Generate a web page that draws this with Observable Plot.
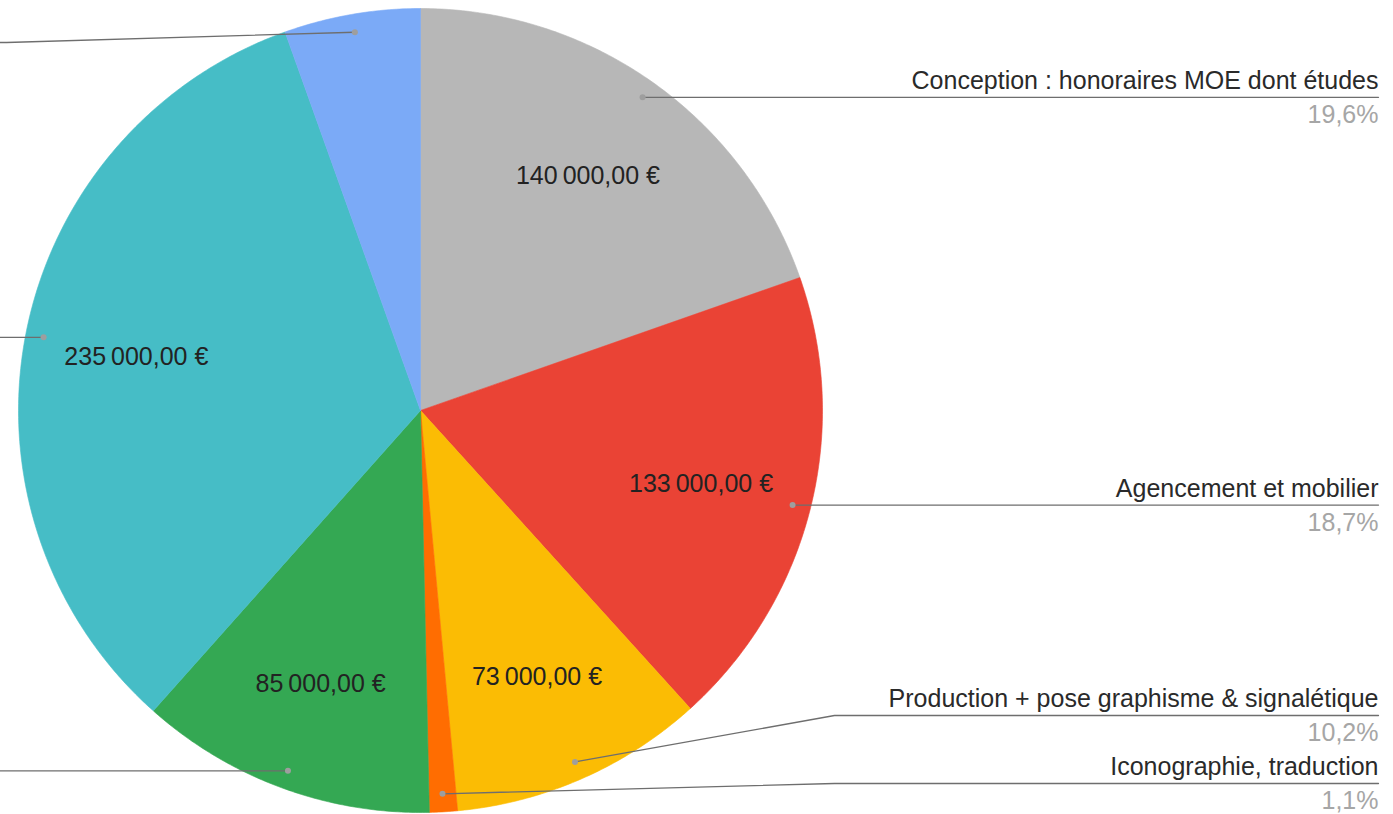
<!DOCTYPE html>
<html>
<head>
<meta charset="utf-8">
<script src="https://cdn.jsdelivr.net/npm/d3@7"></script>
<script src="https://cdn.jsdelivr.net/npm/@observablehq/plot@0.6"></script>
<style>
  html, body { margin: 0; padding: 0; background: #fff; }
  #chart svg { display: block; }
</style>
</head>
<body>
<div id="chart"></div>
<script>
// ---- data (clockwise from 12 o'clock) ----
const categories = [
  "Conception : honoraires MOE dont études",
  "Agencement et mobilier",
  "Production + pose graphisme & signalétique",
  "Iconographie, traduction",
  null, // label outside the visible area
  null, // label outside the visible area
  null  // label outside the visible area
];
const values = [140000, 133000, 73000, 8000, 85000, 235000, 39000];
const colors = ["#b7b7b7", "#ea4335", "#fbbc04", "#ff6d01", "#34a853", "#46bdc6", "#7baaf7"];

// ---- layout ----
const W = 1393, H = 814;
const cx = 420, cy = 410, R = 402;
const FS = 25;
const FONT = "'Liberation Sans', Arial, Helvetica, sans-serif";

const total = d3.sum(values);
const arcs = d3.pie().sort(null).value(d => d)(values);
const pt = (a, rho) => ({x: cx + rho * Math.sin(a), y: cy - rho * Math.cos(a)});

const fr = d3.formatLocale({decimal: ",", thousands: "\u2009", grouping: [3], currency: ["", ""]});
const fmtNum = fr.format(",.2f");
const fmtEuro = v => fmtNum(v) + " €";
const fmtPct = v => (Math.round(v * 1000) / 10).toFixed(1).replace(".", ",") + "%";

// slice polygons
const slices = arcs.map((p, i) => {
  const pts = [pt(0, 0)];
  const n = Math.max(2, Math.ceil((p.endAngle - p.startAngle) / (Math.PI / 360)));
  for (let k = 0; k <= n; k++) pts.push(pt(p.startAngle + (p.endAngle - p.startAngle) * k / n, R));
  pts.push(pt(0, 0));
  return {i, pts};
});

// leader anchors
const items = arcs.map((p, i) => {
  const mid = (p.startAngle + p.endAngle) / 2;
  const dot = pt(mid, R * 0.955);
  return {i, mid, dot, side: Math.sin(mid) >= 0 ? "right" : "left", labelY: dot.y};
});
function layout(list, minY, maxY, gap) {
  list.sort((a, b) => a.dot.y - b.dot.y);
  list.forEach(d => d.labelY = Math.min(maxY, Math.max(minY, d.dot.y)));
  for (let k = list.length - 2; k >= 0; k--)
    if (list[k].labelY > list[k + 1].labelY - gap) list[k].labelY = list[k + 1].labelY - gap;
  for (let k = 1; k < list.length; k++)
    if (list[k].labelY < list[k - 1].labelY + gap) list[k].labelY = list[k - 1].labelY + gap;
}
const right = items.filter(d => d.side === "right");
const left = items.filter(d => d.side === "left");
layout(right, 42, H - 31, 68);
layout(left, 42, H - 31, 68);

const xEnd = W - 15;
const leaders = [];
items.forEach(d => {
  const elbowX = d.side === "right" ? cx + R + 12 : cx - R - 12;
  const endX = d.side === "right" ? xEnd : -400;
  [d.dot, {x: elbowX, y: d.labelY}, {x: endX, y: d.labelY}].forEach(p => leaders.push({i: d.i, x: p.x, y: p.y}));
});

const nameLabels = right.filter(d => categories[d.i]).map(d => ({x: xEnd, y: d.labelY - 8.5 - 0.32 * FS, text: categories[d.i]}));
const pctLabels = right.filter(d => categories[d.i]).map(d => ({x: xEnd, y: d.labelY + 25.5 - 0.32 * FS, text: fmtPct(values[d.i] / total)}));
const valueLabels = items.filter(d => values[d.i] / total > 0.07).map(d => {
  const p = pt(d.mid, R * 0.72);
  return {x: p.x, y: p.y + 2, text: fmtEuro(values[d.i])};
});

const chart = Plot.plot({
  width: W,
  height: H,
  margin: 0,
  x: {domain: [0, W], range: [0, W], axis: null},
  y: {domain: [0, H], range: [0, H], axis: null},
  style: {background: "#fff", fontFamily: FONT, overflow: "hidden"},
  marks: [
    ...slices.map(s => Plot.line(s.pts, {x: "x", y: "y", fill: colors[s.i], stroke: colors[s.i], strokeWidth: 0.6})),
    Plot.line(leaders, {x: "x", y: "y", z: "i", stroke: "#6e6e6e", strokeWidth: 1.3}),
    Plot.dot(items.map(d => d.dot), {x: "x", y: "y", r: 3, fill: "#9e9e9e", stroke: "none"}),
    Plot.text(valueLabels, {x: "x", y: "y", text: "text", fontSize: FS, fill: "#222", textAnchor: "middle"}),
    Plot.text(nameLabels, {x: "x", y: "y", text: "text", fontSize: FS, fill: "#2a2a2a", textAnchor: "end"}),
    Plot.text(pctLabels, {x: "x", y: "y", text: "text", fontSize: FS, fill: "#a6a6a6", textAnchor: "end"})
  ]
});
document.getElementById("chart").appendChild(chart);
</script>
</body>
</html>
